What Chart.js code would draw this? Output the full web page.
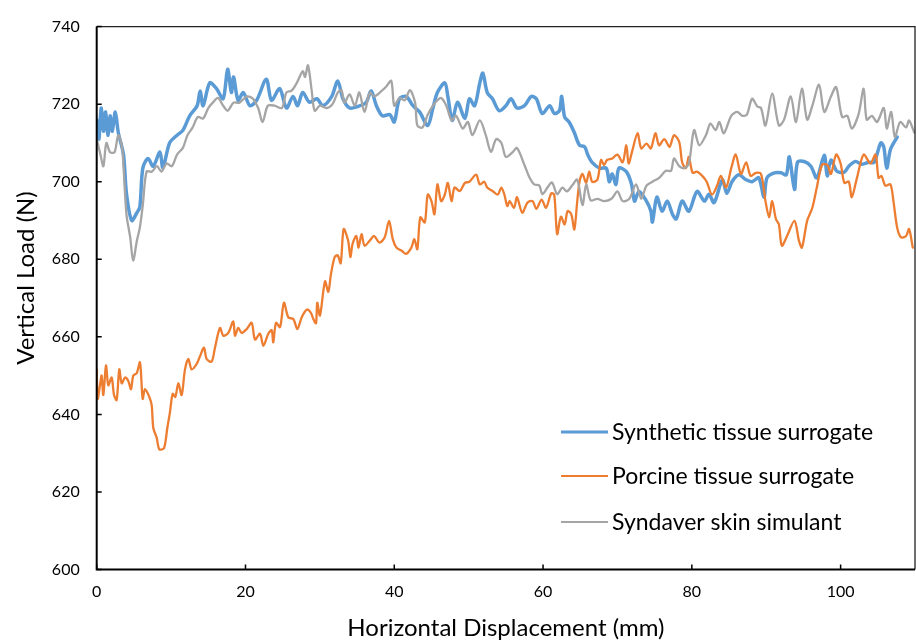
<!DOCTYPE html>
<html>
<head>
<meta charset="utf-8">
<script src="https://cdn.jsdelivr.net/npm/chart.js@4.4.1/dist/chart.umd.min.js"></script>
<style>
  html, body { margin: 0; padding: 0; background: #fff; }
  #wrap { width: 916px; height: 643px; }
</style>
</head>
<body>
<div id="wrap"><canvas id="chart"></canvas></div>
<script>
// Horizontal displacement (mm) and vertical load (N)
const synthX = [0, 0.3, 0.6, 0.9, 1.2, 1.5, 1.8, 2.1, 2.5, 2.9, 3.6, 4.0, 4.7, 5.4, 5.8, 6.2, 6.9, 7.6, 8.5, 8.9,
  9.8, 10.8, 11.6, 12.5, 13.5, 13.9, 14.3, 15.2, 16.1, 17.0, 17.6, 18.1, 18.4, 19.0, 19.7, 20.6, 21.5, 22.8, 23.5, 24.6,
  25.5, 26.4, 27.0, 27.7, 28.6, 29.6, 30.4, 31.6, 32.4, 33.1, 34.0, 35.1, 36.2, 36.9, 37.6, 38.4, 39.4, 40.0, 40.7, 41.6,
  42.5, 43.4, 44.5, 45.2, 45.8, 46.8, 47.2, 47.8, 48.5, 49.5, 50.1, 50.8, 51.5, 51.9, 52.5, 53.2, 54.1, 55.0, 55.7, 56.5,
  57.5, 58.4, 59.1, 59.9, 60.9, 61.5, 62.2, 62.5, 62.9, 63.5, 64.2, 64.9, 65.6, 66.0, 66.6, 67.6, 68.5, 68.9, 69.3, 69.8,
  70.2, 71.2, 71.9, 72.3, 72.9, 73.9, 74.5, 74.7, 75.3, 76.0, 76.7, 77.4, 77.9, 78.7, 79.6, 80.7, 81.7, 82.3, 83.0, 84.1,
  84.7, 85.4, 86.3, 87.3, 88.1, 89.0, 89.7, 90.1, 91.1, 92.0, 92.7, 93.1, 93.8, 94.2, 95.1, 96.0, 96.8, 97.8, 98.2, 98.7,
  99.5, 100.5, 101.1, 102.0, 102.9, 103.8, 104.5, 105.4, 105.8, 106.2, 106.7, 107.6];
const synthY = [716, 711, 719, 713, 718, 712, 717, 713, 718, 712.7, 707, 697, 690, 692, 693.5, 703.5, 706, 704, 707.7, 703.6,
  710, 712, 713.3, 717, 719.6, 723.4, 719.6, 725.5, 724, 721.4, 729, 723, 727, 721, 723, 719.6, 721, 726.4, 721, 724,
  719, 722, 719.6, 723, 720.5, 721.4, 719.6, 722, 726, 721.4, 719, 719.4, 720.4, 723.4, 719.6, 717, 717.3, 715.4, 721.4, 722,
  719.6, 718, 714.5, 719, 723, 725.5, 722, 715.8, 720.5, 716.3, 721.4, 719.6, 725.5, 728, 723, 721.4, 718.3, 719.6, 721.4, 719,
  719.6, 722, 721.4, 717.6, 719.6, 717.6, 718.3, 722, 716.7, 715.4, 712.7, 709.4, 709, 707, 705, 703.5, 703.5, 700, 702, 699.3,
  703.5, 702.6, 699.3, 695, 697.5, 695, 692.4, 689.6, 696, 692.4, 695, 691.6, 690.4, 695, 692.4, 697.5, 695, 696.8, 694.6, 700.5,
  697, 700, 701.8, 700.5, 700, 701, 696, 701, 702.3, 702.3, 701.8, 706.4, 698, 705, 705.2, 704, 701, 706.8, 701.5, 705.6,
  702.7, 702.5, 704, 705.2, 704.5, 705, 705, 710, 709, 703.5, 708.3, 711.5];

const porcineX = [0, 0.13, 0.44, 0.66, 0.89, 1.25, 1.56, 2.01, 2.33, 2.68, 3.04, 3.36, 3.8, 4.25, 4.61, 4.92, 5.37, 5.82, 6.18, 6.49,
  7.07, 7.39, 7.61, 8.06, 8.42, 9.05, 9.49, 9.85, 10.21, 10.57, 10.97, 11.42, 11.87, 12.32, 12.76, 13.44, 13.89, 14.42, 14.78, 15.45,
  15.9, 16.57, 17.02, 17.69, 18.36, 18.59, 19.04, 19.48, 20.16, 20.83, 21.28, 21.95, 22.4, 23.07, 23.52, 23.74, 24.1, 24.64, 25.17, 25.76,
  26.43, 26.97, 27.55, 28.22, 28.76, 29.12, 29.48, 29.65, 30.01, 30.69, 31.13, 31.5, 32.0, 32.4, 32.8, 33.2, 33.8, 34.1, 34.4, 34.9,
  35.2, 35.6, 36.0, 36.7, 37.3, 38.0, 38.7, 39.3, 39.8, 40.3, 41.0, 41.6, 42.3, 42.7, 43.1, 43.5, 44.1, 44.5, 45.0, 45.4,
  45.8, 46.3, 46.8, 47.2, 47.7, 48.1, 48.8, 49.5, 50.1, 51.0, 51.5, 52.1, 52.5, 53.2, 53.9, 54.4, 54.8, 55.2, 55.5, 56.1,
  56.5, 57.2, 57.9, 58.6, 59.1, 59.8, 60.4, 61.1, 61.5, 61.9, 62.4, 62.9, 63.3, 63.8, 64.2, 64.6, 64.9, 65.3, 65.8, 66.2,
  66.6, 67.3, 67.8, 68.2, 68.6, 69.3, 70.0, 70.7, 71.2, 71.5, 72.0, 72.7, 73.2, 73.9, 74.5, 75.1, 75.6, 76.3, 77.0, 77.6,
  78.3, 78.7, 79.2, 79.6, 80.1, 80.7, 81.4, 82.0, 82.7, 83.4, 83.9, 84.6, 85.3, 85.9, 86.6, 87.3, 87.9, 88.6, 89.3, 89.9,
  90.4, 90.8, 91.3, 91.7, 92.1, 92.8, 93.8, 94.4, 94.8, 95.5, 96.2, 96.8, 97.5, 98.2, 98.7, 99.4, 100.0, 100.5, 101.1, 101.5,
  102.2, 103.1, 104.0, 104.7, 105.1, 105.5, 106.0, 106.7, 107.1, 107.6, 108.1, 108.8, 109.2, 109.7];
const porcineY = [651.6, 644, 647.5, 650, 645, 652.6, 647.5, 649.5, 645, 643.7, 651.6, 648, 649.5, 648.6, 646.5, 650, 650.6, 653.4, 644, 646.5,
  644.5, 642.4, 636.5, 634, 631, 631.3, 636.5, 640.6, 645.3, 644.5, 648, 645, 651.6, 654.3, 651.6, 653, 655, 657.2, 654.3, 653.6,
  657.2, 662.3, 660.3, 661, 664, 660.3, 662.3, 661, 662, 663.6, 659.3, 660.8, 657.7, 660.8, 661.7, 658.6, 663.6, 662.5, 668.8, 665,
  664.6, 662, 665, 667, 666.3, 664.6, 663.5, 668.8, 665.5, 674.3, 671.6, 676.3, 680.6, 681, 679, 687.8, 684.8, 680.6, 684, 686,
  683, 686.5, 683.5, 684.8, 686, 684.3, 685.6, 689.9, 685.2, 683, 682.2, 681.4, 683, 685.2, 682.6, 690.8, 689.5, 696.7, 695, 691.6,
  699.3, 695, 696.7, 699.7, 695, 698.5, 697.6, 699.7, 700, 701.8, 699.3, 700, 698.5, 697.6, 696.7, 698.5, 696.7, 693.7, 695, 693.3,
  696, 692, 694.6, 695, 693, 695.4, 693.3, 697, 696.7, 686.5, 691, 689, 692.4, 691.6, 687.7, 695, 700, 702, 699.7, 702.6,
  700, 700.5, 705.6, 704.3, 705.6, 706, 707, 705, 709.4, 704.7, 708, 712.5, 708.6, 709.8, 708.6, 712.5, 709.4, 711, 709, 712,
  710.3, 705, 703.5, 706.4, 702.3, 702.6, 701.5, 700, 696.7, 699, 701.5, 698.5, 703.5, 707, 702, 705, 701.5, 702.3, 702, 695,
  690.8, 695, 690.4, 689, 683.5, 686, 689.9, 684.8, 683, 689.9, 693.3, 698.5, 704.3, 704.3, 702, 707, 704.7, 699.7, 700, 696,
  701, 707, 704.7, 707, 701, 701.5, 699, 699.3, 695, 688.2, 685.7, 686, 687.8, 683];

const syndaverX = [0, 0.5, 0.9, 1.3, 1.8, 2.4, 2.9, 3.4, 3.6, 4.0, 4.5, 4.9, 5.4, 5.8, 6.2, 6.7, 7.4, 8.1, 8.7, 9.4,
  10.1, 10.8, 11.6, 12.2, 12.9, 13.6, 14.3, 15.0, 15.6, 16.3, 17.0, 17.6, 18.4, 19.2, 20.2, 21.0, 21.7, 22.3, 23.0, 23.9,
  24.9, 25.5, 26.2, 26.9, 27.7, 28.0, 28.4, 28.9, 29.3, 30.0, 30.9, 31.7, 32.4, 32.9, 33.3, 34.0, 34.7, 35.3, 36.0, 36.7,
  37.3, 38.3, 38.9, 39.6, 40.0, 40.7, 41.4, 42.1, 42.8, 43.1, 43.8, 44.5, 45.2, 45.8, 46.3, 47.0, 47.7, 48.3, 49.2, 49.9,
  50.5, 51.5, 52.3, 53.0, 53.7, 54.4, 55.0, 55.9, 56.5, 57.5, 58.2, 58.8, 59.5, 59.9, 60.6, 61.2, 61.9, 62.6, 63.2, 63.9,
  64.6, 65.3, 65.8, 66.4, 67.3, 68.2, 69.2, 70.0, 70.7, 71.6, 72.5, 73.2, 73.9, 74.7, 75.6, 76.5, 77.2, 77.6, 78.3, 79.0,
  79.6, 80.3, 81.0, 81.9, 82.5, 83.2, 83.7, 84.3, 85.3, 86.1, 86.8, 87.4, 88.1, 88.8, 89.3, 89.9, 90.8, 91.7, 92.4, 93.3,
  94.0, 94.8, 95.5, 96.2, 97.1, 97.8, 98.7, 99.4, 100.2, 100.9, 101.5, 102.4, 103.1, 103.5, 104.2, 104.9, 105.8, 106.2, 106.8, 107.3,
  108.0, 108.8, 109.2, 109.9];
const syndaverY = [711, 707, 704, 710, 707.6, 707.6, 712, 709, 704, 691.6, 685.7, 679.7, 684.8, 688.2, 694, 702.6, 702.6, 704, 702.6, 704.7,
  704, 707, 708.8, 712, 714, 716.7, 716.3, 719, 720.4, 721.6, 719.6, 718.3, 720.4, 720.4, 722, 721.4, 719, 715.4, 719.6, 719.6,
  719, 723, 723.5, 725.5, 728.5, 727, 730, 723.5, 718.3, 719.6, 719, 720, 723, 723.6, 720.4, 722.5, 719.6, 723, 718, 723,
  722, 723.4, 724.5, 726, 719.6, 721.6, 721, 723.6, 720.4, 714.5, 714, 717.3, 719.6, 721, 721.6, 719.6, 715.8, 717, 713.7, 715.4,
  712, 715.8, 712, 707.7, 711, 710, 706.4, 707.6, 708.7, 704.3, 701, 699.3, 699, 696.8, 698.5, 699.8, 696.8, 698.5, 697.5, 699,
  700.5, 694, 699.3, 695.2, 695.6, 695, 695.6, 697.5, 695, 695.6, 699.3, 695.6, 699, 700, 701, 702.8, 702.8, 706, 704, 703.5,
  704.7, 713.3, 709.4, 712, 715, 713.3, 715.4, 712.5, 717, 718, 717, 717.3, 721.4, 719.4, 719, 714.5, 722.7, 714.5, 716, 722,
  715.4, 724, 716, 719.6, 725, 718, 722, 724.4, 716.7, 717, 713.7, 717.3, 724, 716, 717, 715.4, 719, 713.7, 718, 711.5,
  715.4, 714, 715.8, 712.7];

const seriesLabels = ["Synthetic tissue surrogate", "Porcine tissue surrogate", "Syndaver skin simulant"];
const xTicks = [0, 20, 40, 60, 80, 100];
const yTicks = [600, 620, 640, 660, 680, 700, 720, 740];
const yTitle = "Vertical Load (N)";

const FONT = "Lato, 'Open Sans', sans-serif";

function pts(xs, ys) {
  return xs.map((x, i) => ({ x: x, y: ys[i] }));
}

// box round the plot, inward tick marks, y title (sits a bit above centre)
const framePlugin = {
  id: "frame",
  afterDatasetsDraw(chart) {
    const { ctx, chartArea: a, scales } = chart;
    ctx.save();
    ctx.strokeStyle = "#222";
    ctx.lineWidth = 1.3;
    ctx.beginPath();
    ctx.moveTo(a.left, a.top);
    ctx.lineTo(a.right, a.top);
    ctx.lineTo(a.right, a.bottom);
    ctx.stroke();
    ctx.strokeStyle = "#000";
    ctx.lineWidth = 2;
    ctx.beginPath();
    ctx.moveTo(a.left, a.top);
    ctx.lineTo(a.left, a.bottom);
    ctx.lineTo(a.right, a.bottom);
    ctx.stroke();
    ctx.lineWidth = 1.5;
    ctx.beginPath();
    xTicks.forEach(v => {
      const px = scales.x.getPixelForValue(v);
      ctx.moveTo(px, a.bottom);
      ctx.lineTo(px, a.bottom - 5);
    });
    yTicks.forEach(v => {
      const py = scales.y.getPixelForValue(v);
      ctx.moveTo(a.left, py);
      ctx.lineTo(a.left + 5, py);
    });
    ctx.stroke();

    ctx.translate(26, 278);
    ctx.rotate(-Math.PI / 2);
    ctx.font = "24px " + FONT;
    ctx.fillStyle = "#000";
    ctx.textAlign = "center";
    ctx.textBaseline = "middle";
    ctx.fillText(yTitle, 0, 0);
    ctx.restore();
  }
};

// legend inside the plot, lower right
const legendPlugin = {
  id: "innerLegend",
  afterDraw(chart) {
    const { ctx } = chart;
    const rows = [432, 476, 522];
    ctx.save();
    ctx.font = "23px " + FONT;
    ctx.textBaseline = "middle";
    ctx.fillStyle = "#000";
    chart.data.datasets.forEach((ds, i) => {
      ctx.strokeStyle = ds.borderColor;
      ctx.lineWidth = i === 0 ? 3 : 2;
      ctx.beginPath();
      ctx.moveTo(561, rows[i]);
      ctx.lineTo(608, rows[i]);
      ctx.stroke();
      ctx.fillText(ds.label, 612, rows[i] + 1);
    });
    ctx.restore();
  }
};

new Chart(document.getElementById("chart"), {
  type: "line",
  data: {
    datasets: [
      {
        label: seriesLabels[0],
        data: pts(synthX, synthY),
        borderColor: "#5B9BD5",
        borderWidth: 3.5,
        order: 3
      },
      {
        label: seriesLabels[1],
        data: pts(porcineX, porcineY),
        borderColor: "#ED7D31",
        borderWidth: 2.3,
        order: 2
      },
      {
        label: seriesLabels[2],
        data: pts(syndaverX, syndaverY),
        borderColor: "#A5A5A5",
        borderWidth: 2.3,
        order: 1
      }
    ]
  },
  options: {
    responsive: true,
    maintainAspectRatio: false,
    animation: false,
    devicePixelRatio: 1,
    elements: {
      point: { radius: 0 },
      line: { tension: 0.3, borderJoinStyle: "round", borderCapStyle: "round" }
    },
    layout: { padding: { top: 20, right: 1, left: 0, bottom: 0 } },
    plugins: {
      legend: { display: false },
      tooltip: { enabled: false }
    },
    scales: {
      x: {
        type: "linear",
        min: 0,
        max: 110,
        afterFit: s => { s.height = 73.5; },
        afterBuildTicks: s => { s.ticks = xTicks.map(v => ({ value: v })); },
        grid: { display: false, drawTicks: false },
        border: { display: false },
        ticks: {
          padding: 13,
          color: "#000",
          font: { family: FONT, size: 16 }
        },
        title: {
          display: true,
          text: "Horizontal Displacement (mm)",
          color: "#000",
          font: { family: FONT, size: 24 },
          padding: { top: 0, bottom: 0.5 }
        }
      },
      y: {
        min: 600,
        max: 740,
        afterFit: s => { s.width = 96.7; },
        afterBuildTicks: s => { s.ticks = yTicks.map(v => ({ value: v })); },
        grid: { display: false, drawTicks: false },
        border: { display: false },
        ticks: {
          padding: 17,
          color: "#000",
          font: { family: FONT, size: 16 }
        }
      }
    }
  },
  plugins: [framePlugin, legendPlugin]
});
</script>
</body>
</html>
